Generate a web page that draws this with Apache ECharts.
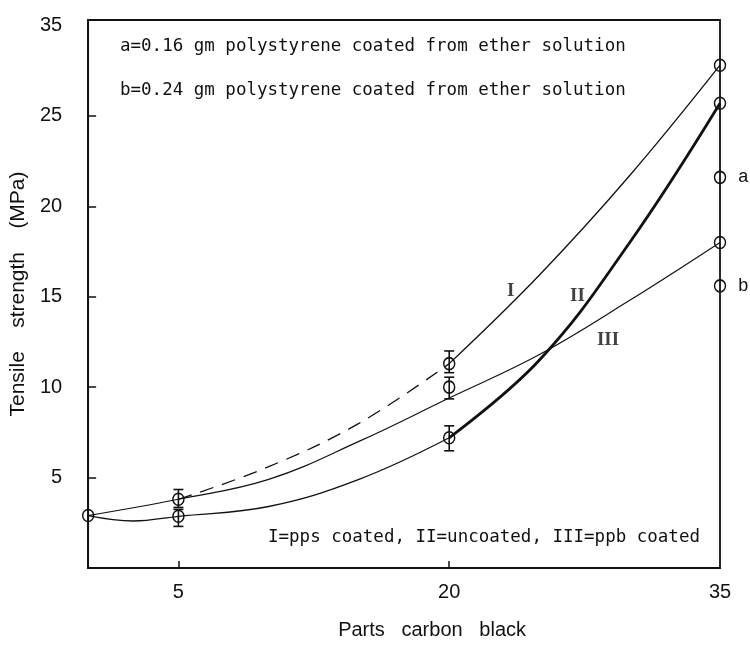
<!DOCTYPE html>
<html>
<head>
<meta charset="utf-8">
<script src="https://cdn.jsdelivr.net/npm/echarts@6/dist/echarts.min.js"></script>
<style>
  html, body { margin: 0; padding: 0; background: #fff; }
  #chart { width: 750px; height: 645px; }
</style>
</head>
<body>
<div id="chart"></div>
<script>
// values (x = parts carbon black, y = tensile strength MPa)
const curveIDashed = [[5, 3.8], [10, 5.6], [15, 8.0], [20, 11.3]];
const curveISolid = [[20, 11.3], [25, 16.2], [30, 21.7], [35, 27.8]];
const curveIIThin = [[0, 2.9], [2.5, 2.6], [5, 2.86], [10, 3.4], [15, 4.9], [20, 7.2]];
const curveIIThick = [[20, 7.2], [25, 11.5], [30, 18.0], [35, 25.7]];
const curveIII = [[0, 2.9], [5, 3.8], [10, 4.9], [15, 7.0], [20, 9.4], [25, 11.8], [30, 14.8], [35, 18.0]];

const pointX = [0, 5, 5, 20, 20, 20, 35, 35, 35];
const pointY = [2.9, 3.8, 2.86, 11.3, 10.0, 7.2, 27.8, 25.7, 18.0];

const extraNames = ["a", "b"];
const extraX = [35, 35];
const extraY = [21.6, 15.6];

const errX = [5, 5, 20, 20, 20];
const errLow = [3.35, 2.3, 10.8, 9.35, 6.48];
const errHigh = [4.34, 3.24, 12.0, 10.55, 7.86];

const curveNames = ["I", "II", "III"];
const curveLabelX = [23.4, 27.1, 28.8];
const curveLabelY = [15.3, 15.05, 12.6];

const xLabelValues = [5, 20, 35];
const xTickValues = [5, 20];
const yTickValues = [5, 10, 15, 20, 25];
const yLabelValues = [5, 10, 15, 20, 25, 30];
const yLabelText = { 30: "35" };

const chart = echarts.init(document.getElementById("chart"));

const ink = "#111";
const mono = "'DejaVu Sans Mono', 'Liberation Mono', monospace";
const sans = "'Liberation Sans', 'DejaVu Sans', sans-serif";

function lineSeries(data, width, dashed) {
  return {
    type: "line",
    data: data,
    smooth: 0.4,
    showSymbol: false,
    silent: true,
    lineStyle: { color: ink, width: width, type: dashed ? [14, 9] : "solid" },
    z: 2,
  };
}

const ring = {
  symbol: "circle",
  symbolSize: [11, 12],
  itemStyle: { color: "rgba(255,255,255,0)", borderColor: ink, borderWidth: 1.5, opacity: 1 },
  emphasis: { disabled: true },
  clip: false,
  silent: true,
  z: 4,
};

chart.setOption({
  backgroundColor: "#fff",
  animation: false,
  grid: {
    left: 88, right: 30, top: 20, bottom: 74,
    show: true, borderColor: ink, borderWidth: 1.8,
  },
  xAxis: {
    type: "value",
    min: 0, max: 35,
    name: "Parts   carbon   black",
    nameLocation: "middle",
    nameGap: 52,
    nameTextStyle: { fontFamily: sans, fontSize: 20, color: ink, padding: [0, 0, 0, 56] },
    axisLine: { show: true, lineStyle: { color: ink, width: 1.8 } },
    axisTick: { show: true, inside: true, length: 7, customValues: xTickValues, lineStyle: { color: ink, width: 1.5 } },
    axisLabel: { customValues: xLabelValues, margin: 14, fontFamily: sans, fontSize: 20, color: ink },
    splitLine: { show: false },
  },
  yAxis: {
    type: "value",
    min: 0, max: 30.3,
    name: "Tensile    strength    (MPa)",
    nameLocation: "middle",
    nameGap: 54,
    nameTextStyle: { fontFamily: sans, fontSize: 21, color: ink },
    axisLine: { show: true, lineStyle: { color: ink, width: 1.8 } },
    axisTick: { show: true, inside: true, length: 8, customValues: yTickValues, lineStyle: { color: ink, width: 1.5 } },
    axisLabel: {
      customValues: yLabelValues, margin: 26, fontFamily: sans, fontSize: 20, color: ink,
      formatter: (v) => yLabelText[v] || String(v),
    },
    splitLine: { show: false },
  },
  graphic: [
    { type: "text", left: 120, top: 37, style: { text: "a=0.16 gm polystyrene coated from ether solution", font: "17.5px " + mono, fill: ink } },
    { type: "text", left: 120, top: 81, style: { text: "b=0.24 gm polystyrene coated from ether solution", font: "17.5px " + mono, fill: ink } },
    { type: "text", left: 268, top: 528, style: { text: "I=pps coated, II=uncoated, III=ppb coated", font: "17.5px " + mono, fill: ink } },
  ],
  series: [
    lineSeries(curveIDashed, 1.3, true),
    lineSeries(curveISolid, 1.3, false),
    lineSeries(curveIIThin, 1.3, false),
    lineSeries(curveIIThick, 2.8, false),
    lineSeries(curveIII, 1.2, false),
    {
      type: "custom",
      silent: true,
      data: errX.map((x, i) => [x, errLow[i], errHigh[i]]),
      renderItem: (params, api) => {
        const top = api.coord([api.value(0), api.value(2)]);
        const bot = api.coord([api.value(0), api.value(1)]);
        const cap = 5;
        const style = { stroke: ink, lineWidth: 1.6 };
        return {
          type: "group",
          children: [
            { type: "line", shape: { x1: top[0], y1: top[1], x2: bot[0], y2: bot[1] }, style: style },
            { type: "line", shape: { x1: top[0] - cap, y1: top[1], x2: top[0] + cap, y2: top[1] }, style: style },
            { type: "line", shape: { x1: bot[0] - cap, y1: bot[1], x2: bot[0] + cap, y2: bot[1] }, style: style },
          ],
        };
      },
      z: 3,
    },
    Object.assign({ type: "scatter", data: pointX.map((x, i) => [x, pointY[i]]) }, ring),
    Object.assign({
      type: "scatter",
      data: extraX.map((x, i) => ({ value: [x, extraY[i]], name: extraNames[i] })),
      label: {
        show: true, position: "right", distance: 12,
        formatter: (p) => p.name,
        fontFamily: sans, fontSize: 18, color: ink,
      },
    }, ring),
    {
      type: "scatter",
      data: curveLabelX.map((x, i) => ({ value: [x, curveLabelY[i]], name: curveNames[i] })),
      symbolSize: 0,
      label: {
        show: true, position: "inside",
        formatter: (p) => p.name,
        fontFamily: "'Liberation Serif', 'DejaVu Serif', serif",
        fontWeight: "bold", fontSize: 19, color: ink,
      },
      silent: true,
      z: 4,
    },
  ],
});
</script>
</body>
</html>
